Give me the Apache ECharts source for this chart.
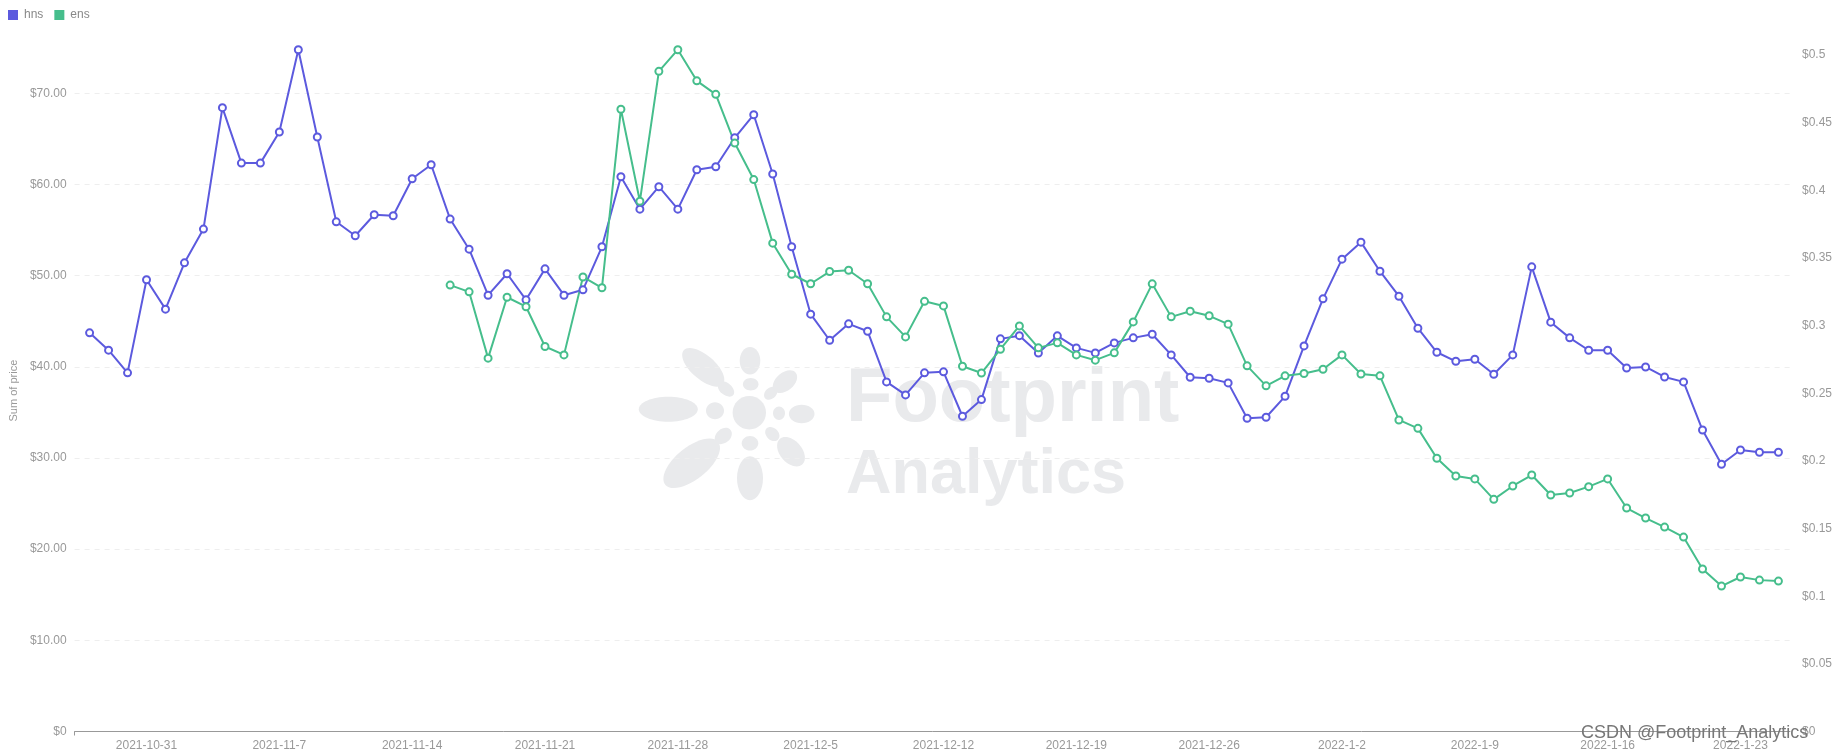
<!DOCTYPE html>
<html>
<head>
<meta charset="utf-8">
<script src="https://cdn.jsdelivr.net/npm/echarts@6/dist/echarts.min.js"></script>
<style>
html,body{margin:0;padding:0;background:#fff;}
#chart{width:1837px;height:753px;}
</style>
</head>
<body>
<div id="chart"></div>
<script>
var dates = [
'2021-10-28','2021-10-29','2021-10-30','2021-10-31',
'2021-11-1','2021-11-2','2021-11-3','2021-11-4','2021-11-5','2021-11-6','2021-11-7','2021-11-8','2021-11-9','2021-11-10',
'2021-11-11','2021-11-12','2021-11-13','2021-11-14','2021-11-15','2021-11-16','2021-11-17','2021-11-18','2021-11-19','2021-11-20',
'2021-11-21','2021-11-22','2021-11-23','2021-11-24','2021-11-25','2021-11-26','2021-11-27','2021-11-28','2021-11-29','2021-11-30',
'2021-12-1','2021-12-2','2021-12-3','2021-12-4','2021-12-5','2021-12-6','2021-12-7','2021-12-8','2021-12-9','2021-12-10',
'2021-12-11','2021-12-12','2021-12-13','2021-12-14','2021-12-15','2021-12-16','2021-12-17','2021-12-18','2021-12-19','2021-12-20',
'2021-12-21','2021-12-22','2021-12-23','2021-12-24','2021-12-25','2021-12-26','2021-12-27','2021-12-28','2021-12-29','2021-12-30','2021-12-31',
'2022-1-1','2022-1-2','2022-1-3','2022-1-4','2022-1-5','2022-1-6','2022-1-7','2022-1-8','2022-1-9','2022-1-10',
'2022-1-11','2022-1-12','2022-1-13','2022-1-14','2022-1-15','2022-1-16','2022-1-17','2022-1-18','2022-1-19','2022-1-20',
'2022-1-21','2022-1-22','2022-1-23','2022-1-24','2022-1-25'
];

var hns = [
43.73, 41.83, 39.34, 49.55, 46.33, 51.41, 55.11, 68.43, 62.35, 62.35,
65.76, 74.79, 65.21, 55.91, 54.38, 56.68, 56.57, 60.63, 62.17, 56.21,
52.91, 47.86, 50.21, 47.35, 50.75, 47.86, 48.45, 53.17, 60.85, 57.30,
59.76, 57.30, 61.62, 61.95, 65.13, 67.66, 61.15, 53.17, 45.78, 42.92,
44.72, 43.91, 38.35, 36.92, 39.34, 39.45, 34.58, 36.41, 43.07, 43.42,
41.51, 43.40, 42.08, 41.53, 42.63, 43.18, 43.58, 41.31, 38.86, 38.75,
38.24, 34.36, 34.47, 36.77, 42.30, 47.46, 51.81, 53.68, 50.49, 47.75,
44.24, 41.60, 40.61, 40.83, 39.19, 41.31, 50.97, 44.90, 43.18, 41.82,
41.82, 39.88, 39.99, 38.89, 38.35, 33.07, 29.31, 30.88, 30.63, 30.63
];

var ens = [
null, null, null, null, null, null, null, null, null, null,
null, null, null, null, null, null, null, null, null, 0.330,
0.325, 0.276, 0.321, 0.314, 0.2846, 0.2784, 0.336, 0.328, 0.460, 0.392,
0.488, 0.504, 0.481, 0.471, 0.435, 0.408, 0.361, 0.338, 0.331, 0.340,
0.341, 0.331, 0.3065, 0.2917, 0.318, 0.3146, 0.270, 0.265, 0.2826, 0.2998,
0.2836, 0.2873, 0.2784, 0.2745, 0.2799, 0.3028, 0.3309, 0.3065, 0.3107, 0.3073,
0.3011, 0.2703, 0.2555, 0.2629, 0.2646, 0.2678, 0.2784, 0.2643, 0.2629, 0.2303,
0.2241, 0.2020, 0.1889, 0.1867, 0.1716, 0.1815, 0.1896, 0.1748, 0.1763, 0.1810,
0.1867, 0.1652, 0.1578, 0.1511, 0.1437, 0.1201, 0.1075, 0.1142, 0.1119, 0.1112
];

var xLabelIdx = [3, 10, 17, 24, 31, 38, 45, 52, 59, 66, 73, 80, 87];

var hnsColor = '#5C5ADE';
var ensColor = '#46BE8C';
var txtColor = '#999999';
var wm = '#E9EAEC';

function pairs(arr) {
  var out = [];
  for (var i = 0; i < arr.length; i++) {
    if (arr[i] !== null) out.push([i, arr[i]]);
  }
  return out;
}

var chart = echarts.init(document.getElementById('chart'), null, {renderer: 'canvas'});

function petal(x, y, rx, ry, rot) {
  return {
    type: 'ellipse', x: x, y: y, rotation: rot || 0, z: 0, silent: true,
    shape: {cx: 0, cy: 0, rx: rx, ry: ry},
    style: {fill: wm}
  };
}

var option = {
  animation: false,
  backgroundColor: '#ffffff',
  legend: {
    left: 8, top: 9, padding: 0,
    itemWidth: 8, itemHeight: 8, itemGap: 11,
    icon: 'rect',
    textStyle: {color: '#888888', fontSize: 12, fontFamily: 'Liberation Sans, Arial, sans-serif', padding: [0, 0, 0, 2]},
    data: ['hns', 'ens']
  },
  grid: {left: 73.3, right: 47, top: 49.7, bottom: 21.5, containLabel: false},
  xAxis: {
    type: 'value',
    min: -0.79,
    max: 89.61,
    axisLine: {show: true, lineStyle: {color: '#999999', width: 1}},
    axisTick: {show: true, customValues: [-0.79], length: 4, lineStyle: {color: '#999999'}},
    splitLine: {show: false},
    axisLabel: {
      customValues: xLabelIdx,
      color: txtColor, fontSize: 12, margin: 8,
      fontFamily: 'Liberation Sans, Arial, sans-serif',
      formatter: function (v) { return dates[Math.round(v)]; }
    }
  },
  yAxis: [
    {
      type: 'value', min: 0, max: 'dataMax', interval: 10,
      name: 'Sum of price', nameLocation: 'middle', nameGap: 49,
      nameTextStyle: {color: txtColor, fontSize: 11, fontFamily: 'Liberation Sans, Arial, sans-serif'},
      axisLine: {show: false}, axisTick: {show: false},
      axisLabel: {
        color: txtColor, fontSize: 12, margin: 8, showMaxLabel: false,
        fontFamily: 'Liberation Sans, Arial, sans-serif',
        formatter: function (v) { return v === 0 ? '$0' : '$' + v.toFixed(2); }
      },
      splitLine: {show: true, showMaxLine: false, showMinLine: false, lineStyle: {color: '#EEEEEE', type: [5, 5]}}
    },
    {
      type: 'value', min: 0, max: 'dataMax', interval: 0.05, position: 'right',
      axisLine: {show: false}, axisTick: {show: false},
      axisLabel: {
        color: txtColor, fontSize: 12, margin: 12, showMaxLabel: false,
        fontFamily: 'Liberation Sans, Arial, sans-serif',
        formatter: function (v) { return '$' + parseFloat(v.toFixed(4)); }
      },
      splitLine: {show: false}
    }
  ],
  graphic: [
    petal(749.3, 412.7, 16.7, 16.7),
    petal(715, 410.7, 9, 8.5),
    petal(668.3, 409.3, 29.5, 12.5),
    petal(779, 413.3, 6, 6.7),
    petal(801.7, 414, 12.8, 9.2),
    petal(750.7, 384.3, 7.8, 6.2),
    petal(750, 360.7, 10.3, 13.8),
    petal(750, 443.3, 8.3, 7.3),
    petal(750, 478.3, 13, 22),
    petal(726, 389, 9.5, 6, -0.7),
    petal(703.3, 367.3, 26, 12, -0.72),
    petal(770.7, 393.3, 7.5, 5.5, 0.75),
    petal(785, 381.7, 14, 9, 0.7),
    petal(723.3, 436, 9.5, 7, 0.7),
    petal(691.7, 463.3, 34, 16, 0.68),
    petal(772.3, 434, 8, 6, -0.75),
    petal(791, 451.7, 17, 11, -0.85),
    {
      type: 'text', x: 846, y: 438, z: 0, silent: true,
      style: {text: 'Footprint', fill: wm, font: 'bold 76px "Liberation Sans", Arial, sans-serif', align: 'left', verticalAlign: 'bottom'}
    },
    {
      type: 'text', x: 846, y: 507, z: 0, silent: true,
      style: {text: 'Analytics', fill: wm, font: 'bold 63px "Liberation Sans", Arial, sans-serif', align: 'left', verticalAlign: 'bottom'}
    },
    {
      type: 'text', x: 1581, y: 733, z: 100, silent: true,
      style: {text: 'CSDN @Footprint_Analytics', fill: '#777777', font: '18px "Liberation Sans", Arial, sans-serif', align: 'left', verticalAlign: 'middle'}
    }
  ],
  series: [
    {
      name: 'hns', type: 'line', yAxisIndex: 0,
      data: pairs(hns),
      symbol: 'emptyCircle', symbolSize: 7, showSymbol: true,
      lineStyle: {color: hnsColor, width: 2},
      itemStyle: {color: hnsColor, borderColor: hnsColor, borderWidth: 2}
    },
    {
      name: 'ens', type: 'line', yAxisIndex: 1,
      data: pairs(ens),
      symbol: 'emptyCircle', symbolSize: 7, showSymbol: true,
      lineStyle: {color: ensColor, width: 2},
      itemStyle: {color: ensColor, borderColor: ensColor, borderWidth: 2}
    }
  ]
};
chart.setOption(option);
</script>
</body>
</html>
